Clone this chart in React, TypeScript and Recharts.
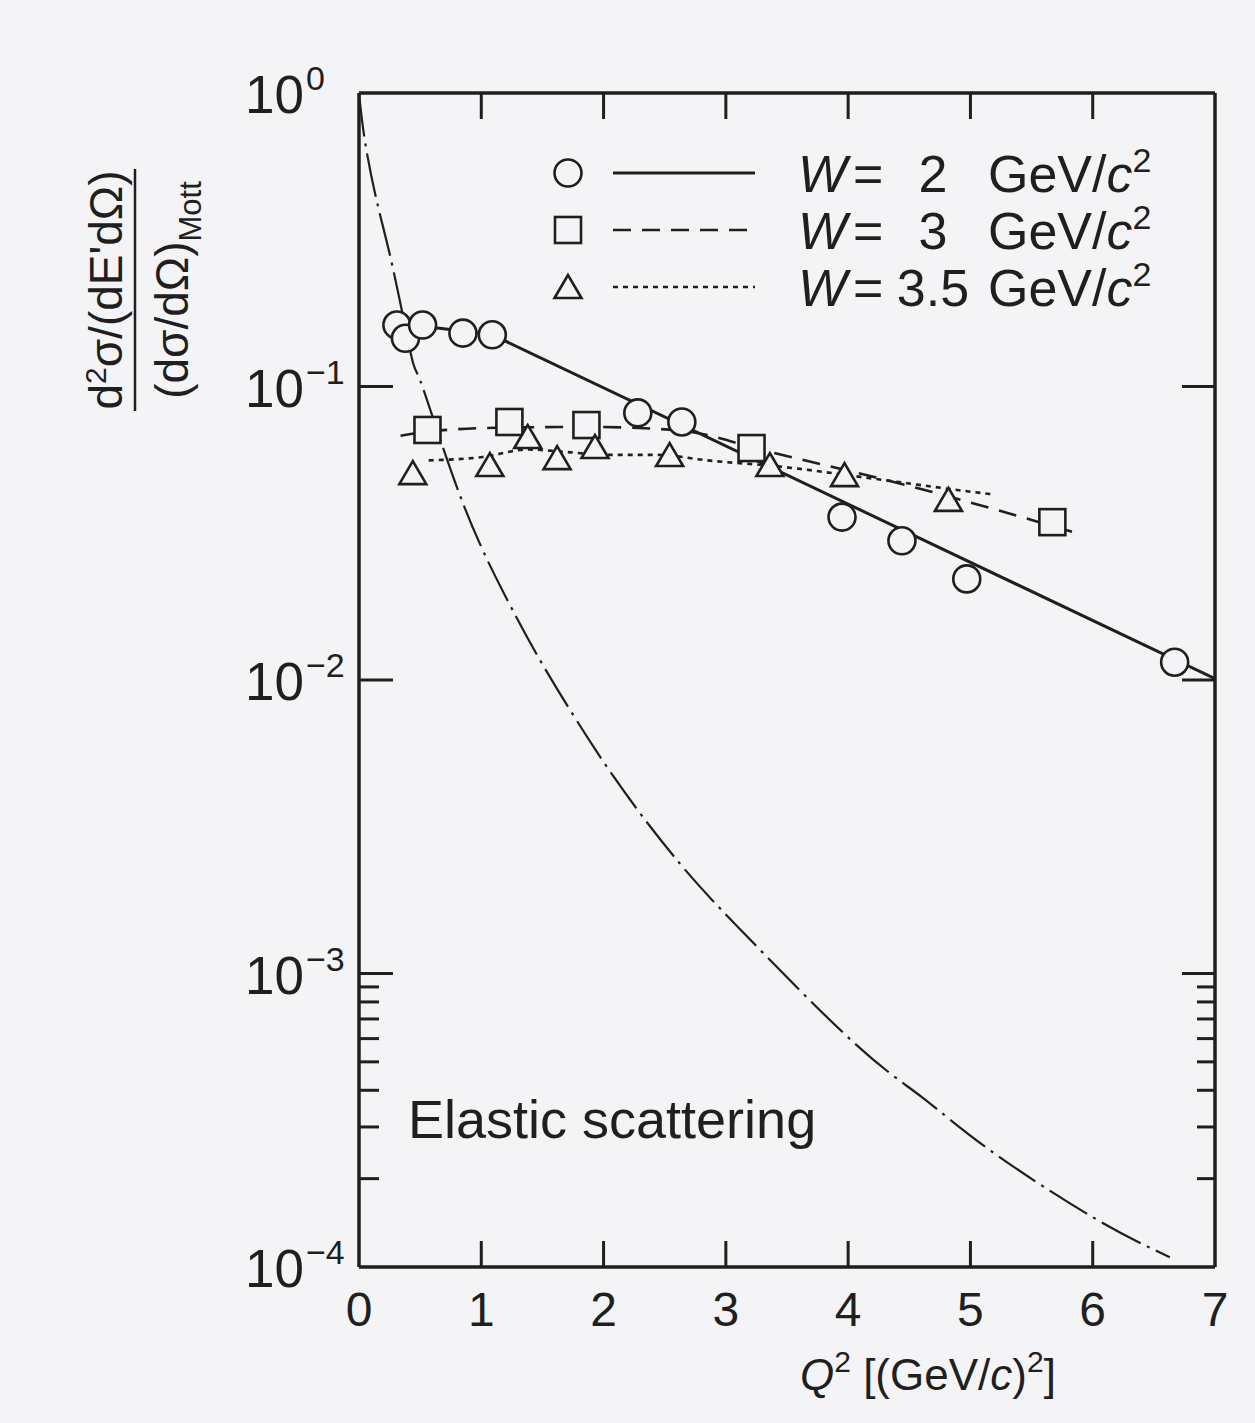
import React from "react";
import { ComposedChart, Line, XAxis, YAxis } from "recharts";

const INK = "#1f1f1f";
const PAPER = "#f4f4f6";
const FONT = "'Liberation Sans', Arial, Helvetica, sans-serif";

// axis ticks
const Q2_TICKS = [0, 1, 2, 3, 4, 5, 6, 7];
const RATIO_DECADES = [1e-4, 1e-3, 1e-2, 1e-1, 1];
const RATIO_MINOR = [2e-4, 3e-4, 4e-4, 5e-4, 6e-4, 7e-4, 8e-4, 9e-4];

// W = 2 GeV/c^2
const w2Q2 = [0.31, 0.38, 0.52, 0.85, 1.09, 2.28, 2.64, 3.95, 4.44, 4.97, 6.67];
const w2Ratio = [0.162, 0.146, 0.162, 0.152, 0.15, 0.0813, 0.0757, 0.0359, 0.0298, 0.0221, 0.0115];
const w2FitQ2 = [0.31, 0.66, 1.09, 7.0];
const w2FitRatio = [0.162, 0.158, 0.15, 0.0101];

// W = 3 GeV/c^2
const w3Q2 = [0.56, 1.23, 1.86, 3.21, 5.67];
const w3Ratio = [0.0711, 0.0757, 0.0739, 0.0617, 0.0345];
const w3FitQ2 = [0.34, 0.6, 1.23, 1.9, 2.6, 3.36, 4.53, 5.84];
const w3FitRatio = [0.068, 0.0705, 0.0725, 0.0728, 0.071, 0.0598, 0.0455, 0.0319];

// W = 3.5 GeV/c^2
const w35Q2 = [0.44, 1.07, 1.38, 1.62, 1.93, 2.54, 3.36, 3.97, 4.82];
const w35Ratio = [0.0507, 0.054, 0.0673, 0.057, 0.0622, 0.0584, 0.054, 0.0499, 0.0411];
const w35FitQ2 = [0.57, 1.01, 1.38, 1.7, 2.03, 2.44, 2.85, 3.47, 4.1, 5.08, 5.2];
const w35FitRatio = [0.056, 0.0575, 0.061, 0.0598, 0.0585, 0.0585, 0.056, 0.0532, 0.0492, 0.0434, 0.0428];

// elastic scattering curve
const elasticQ2 = [0, 0.05, 0.15, 0.28, 0.43, 0.52, 0.85, 1.22, 1.54, 2.08, 2.62, 3.12, 4.03, 4.6, 5.16, 6.01, 6.63];
const elasticRatio = [1.0, 0.68, 0.42, 0.25, 0.126, 0.0996, 0.04, 0.0185, 0.0106, 0.0047, 0.00238, 0.00141, 0.00059, 0.00038, 0.00025, 0.000147, 0.000108];

const W_VALUES = ["2", "3", "3.5"];

type Pt = { q2: number; ratio: number };
const pairUp = (q: number[], r: number[]): Pt[] => q.map((v, i) => ({ q2: v, ratio: r[i] }));

const Ring = ({ cx, cy }: any) => (
  <circle cx={cx} cy={cy} r={13.5} fill={PAPER} stroke={INK} strokeWidth={2.6} />
);
const Box = ({ cx, cy }: any) => (
  <rect x={cx - 13} y={cy - 13} width={26} height={26} fill={PAPER} stroke={INK} strokeWidth={2.6} />
);
const Tri = ({ cx, cy }: any) => (
  <polygon
    points={`${cx},${cy - 12} ${cx - 13.5},${cy + 11} ${cx + 13.5},${cy + 11}`}
    fill={PAPER}
    stroke={INK}
    strokeWidth={2.6}
    strokeLinejoin="miter"
  />
);

const STYLES = [
  { marker: Ring, dash: undefined, width: 3 },
  { marker: Box, dash: "18 11", width: 2.6 },
  { marker: Tri, dash: "5 5", width: 2.6 },
];

const frame = { stroke: INK, strokeWidth: 3.5 };

const BottomTick = ({ x, y, payload }: any) => {
  const v = payload.value;
  const edge = v === Q2_TICKS[0] || v === Q2_TICKS[Q2_TICKS.length - 1];
  return (
    <g>
      {!edge && <line x1={x} x2={x} y1={y} y2={y - 26} stroke={INK} strokeWidth={3} />}
      <text x={x} y={y + 59} textAnchor="middle" fontSize={48} fill={INK} fontFamily={FONT}>
        {v}
      </text>
    </g>
  );
};

const TopTick = ({ x, y, payload }: any) => {
  const v = payload.value;
  if (v === Q2_TICKS[0] || v === Q2_TICKS[Q2_TICKS.length - 1]) return <g />;
  return <line x1={x} x2={x} y1={y} y2={y + 26} stroke={INK} strokeWidth={3} />;
};

const isDecade = (v: number) => Math.abs(Math.log10(v) - Math.round(Math.log10(v))) < 1e-6;
const isEdge = (v: number) => v === RATIO_DECADES[0] || v === RATIO_DECADES[RATIO_DECADES.length - 1];

const LeftTick = ({ x, y, payload }: any) => {
  const v = payload.value;
  const major = isDecade(v);
  const exp = Math.round(Math.log10(v));
  return (
    <g>
      {!isEdge(v) && (
        <line x1={x} x2={x + (major ? 34 : 20)} y1={y} y2={y} stroke={INK} strokeWidth={3} />
      )}
      {major && (
        <text x={x - 114} y={y + 20} fontSize={53} fill={INK} fontFamily={FONT}>
          10
          <tspan dx={2} dy={-23} fontSize={34}>
            {exp === 0 ? "0" : "\u2212" + Math.abs(exp)}
          </tspan>
        </text>
      )}
    </g>
  );
};

const RightTick = ({ x, y, payload }: any) => {
  const v = payload.value;
  if (isEdge(v)) return <g />;
  const major = isDecade(v);
  return <line x1={x} x2={x - (major ? 33 : 18)} y1={y} y2={y} stroke={INK} strokeWidth={3} />;
};

const XLabel = ({ viewBox }: any) => (
  <text x={viewBox.x + 441} y={viewBox.y + 123} fontSize={44} fill={INK} fontFamily={FONT}>
    <tspan fontStyle="italic">Q</tspan>
    <tspan dy={-18} fontSize={30}>2</tspan>
    <tspan dy={18}> [(GeV/</tspan>
    <tspan fontStyle="italic">c</tspan>
    <tspan>)</tspan>
    <tspan dy={-18} fontSize={30}>2</tspan>
    <tspan dy={18}>]</tspan>
  </text>
);

const YLabel = ({ viewBox }: any) => {
  const mid = viewBox.y + 197;
  const left = viewBox.x;
  return (
    <g fontFamily={FONT} fill={INK}>
      <text transform={`translate(${left - 137},${mid}) rotate(-90)`} textAnchor="middle" fontSize={46}>
        d<tspan dy={-16} fontSize={30}>2</tspan>
        <tspan dy={16}>σ/(dE'dΩ)</tspan>
      </text>
      <line x1={left - 124} x2={left - 124} y1={mid - 121} y2={mid + 121} stroke={INK} strokeWidth={2.5} />
      <text transform={`translate(${left - 71},${mid}) rotate(-90)`} textAnchor="middle" fontSize={46}>
        (dσ/dΩ)
        <tspan dy={13} fontSize={31}>Mott</tspan>
      </text>
    </g>
  );
};

const Legend = () => (
  <g fontFamily={FONT} fill={INK}>
    {W_VALUES.map((w, i) => {
      const cy = 173 + i * 57;
      const s = STYLES[i];
      const M = s.marker;
      return (
        <g key={w}>
          <M cx={568} cy={cy} />
          <line x1={613} x2={755} y1={cy} y2={cy} stroke={INK} strokeWidth={s.width} strokeDasharray={s.dash} />
          <text x={798} y={cy + 19} fontSize={52} fontStyle="italic">W</text>
          <text x={853} y={cy + 19} fontSize={52}>=</text>
          <text x={933} y={cy + 19} fontSize={52} textAnchor="middle">{w}</text>
          <text x={988} y={cy + 19} fontSize={52}>
            GeV/<tspan fontStyle="italic">c</tspan>
            <tspan dy={-20} fontSize={34}>2</tspan>
          </text>
        </g>
      );
    })}
    <text x={408} y={1138} fontSize={54}>Elastic scattering</text>
  </g>
);

export default function App() {
  const w2 = pairUp(w2Q2, w2Ratio);
  const w3 = pairUp(w3Q2, w3Ratio);
  const w35 = pairUp(w35Q2, w35Ratio);
  const axes = { xAxisId: "bottom", yAxisId: "left" };
  return (
    <div style={{ position: "absolute", left: 0, top: 0, width: 1255, height: 1423, background: PAPER }}>
      <ComposedChart width={1255} height={1423} margin={{ top: 73, right: 0, bottom: 96, left: 259 }}>
        <XAxis
          xAxisId="bottom"
          type="number"
          dataKey="q2"
          domain={[0, 7]}
          ticks={Q2_TICKS}
          interval={0}
          allowDataOverflow
          height={60}
          tickSize={0}
          tickMargin={0}
          tickLine={false}
          axisLine={frame}
          tick={<BottomTick />}
          label={<XLabel />}
        />
        <XAxis
          xAxisId="top"
          orientation="top"
          type="number"
          dataKey="q2"
          domain={[0, 7]}
          ticks={Q2_TICKS}
          interval={0}
          allowDataOverflow
          height={20}
          tickSize={0}
          tickMargin={0}
          tickLine={false}
          axisLine={frame}
          tick={<TopTick />}
        />
        <YAxis
          yAxisId="left"
          type="number"
          scale="log"
          dataKey="ratio"
          domain={[1e-4, 1]}
          ticks={[...RATIO_MINOR, ...RATIO_DECADES]}
          interval={0}
          allowDataOverflow
          width={100}
          tickSize={0}
          tickMargin={0}
          tickLine={false}
          axisLine={frame}
          tick={<LeftTick />}
          label={<YLabel />}
        />
        <YAxis
          yAxisId="right"
          orientation="right"
          type="number"
          scale="log"
          dataKey="ratio"
          domain={[1e-4, 1]}
          ticks={[...RATIO_MINOR, ...RATIO_DECADES]}
          interval={0}
          allowDataOverflow
          width={40}
          tickSize={0}
          tickMargin={0}
          tickLine={false}
          axisLine={frame}
          tick={<RightTick />}
        />

        <Line {...axes} data={pairUp(elasticQ2, elasticRatio)} dataKey="ratio" type="natural" stroke={INK} strokeWidth={2.2} strokeDasharray="44 7 3 7" dot={false} activeDot={false} isAnimationActive={false} />
        <Line {...axes} data={pairUp(w2FitQ2, w2FitRatio)} dataKey="ratio" type="linear" stroke={INK} strokeWidth={STYLES[0].width} dot={false} activeDot={false} isAnimationActive={false} />
        <Line {...axes} data={pairUp(w3FitQ2, w3FitRatio)} dataKey="ratio" type="monotone" stroke={INK} strokeWidth={STYLES[1].width} strokeDasharray={STYLES[1].dash} dot={false} activeDot={false} isAnimationActive={false} />
        <Line {...axes} data={pairUp(w35FitQ2, w35FitRatio)} dataKey="ratio" type="monotone" stroke={INK} strokeWidth={STYLES[2].width} strokeDasharray={STYLES[2].dash} dot={false} activeDot={false} isAnimationActive={false} />

        <Line {...axes} data={w2} dataKey="ratio" stroke="none" dot={(p: any) => <Ring key={p.index} cx={p.cx} cy={p.cy} />} activeDot={false} isAnimationActive={false} />
        <Line {...axes} data={w3} dataKey="ratio" stroke="none" dot={(p: any) => <Box key={p.index} cx={p.cx} cy={p.cy} />} activeDot={false} isAnimationActive={false} />
        <Line {...axes} data={w35} dataKey="ratio" stroke="none" dot={(p: any) => <Tri key={p.index} cx={p.cx} cy={p.cy} />} activeDot={false} isAnimationActive={false} />
      </ComposedChart>
      <svg width={1255} height={1423} style={{ position: "absolute", left: 0, top: 0, pointerEvents: "none" }}>
        <Legend />
      </svg>
    </div>
  );
}
